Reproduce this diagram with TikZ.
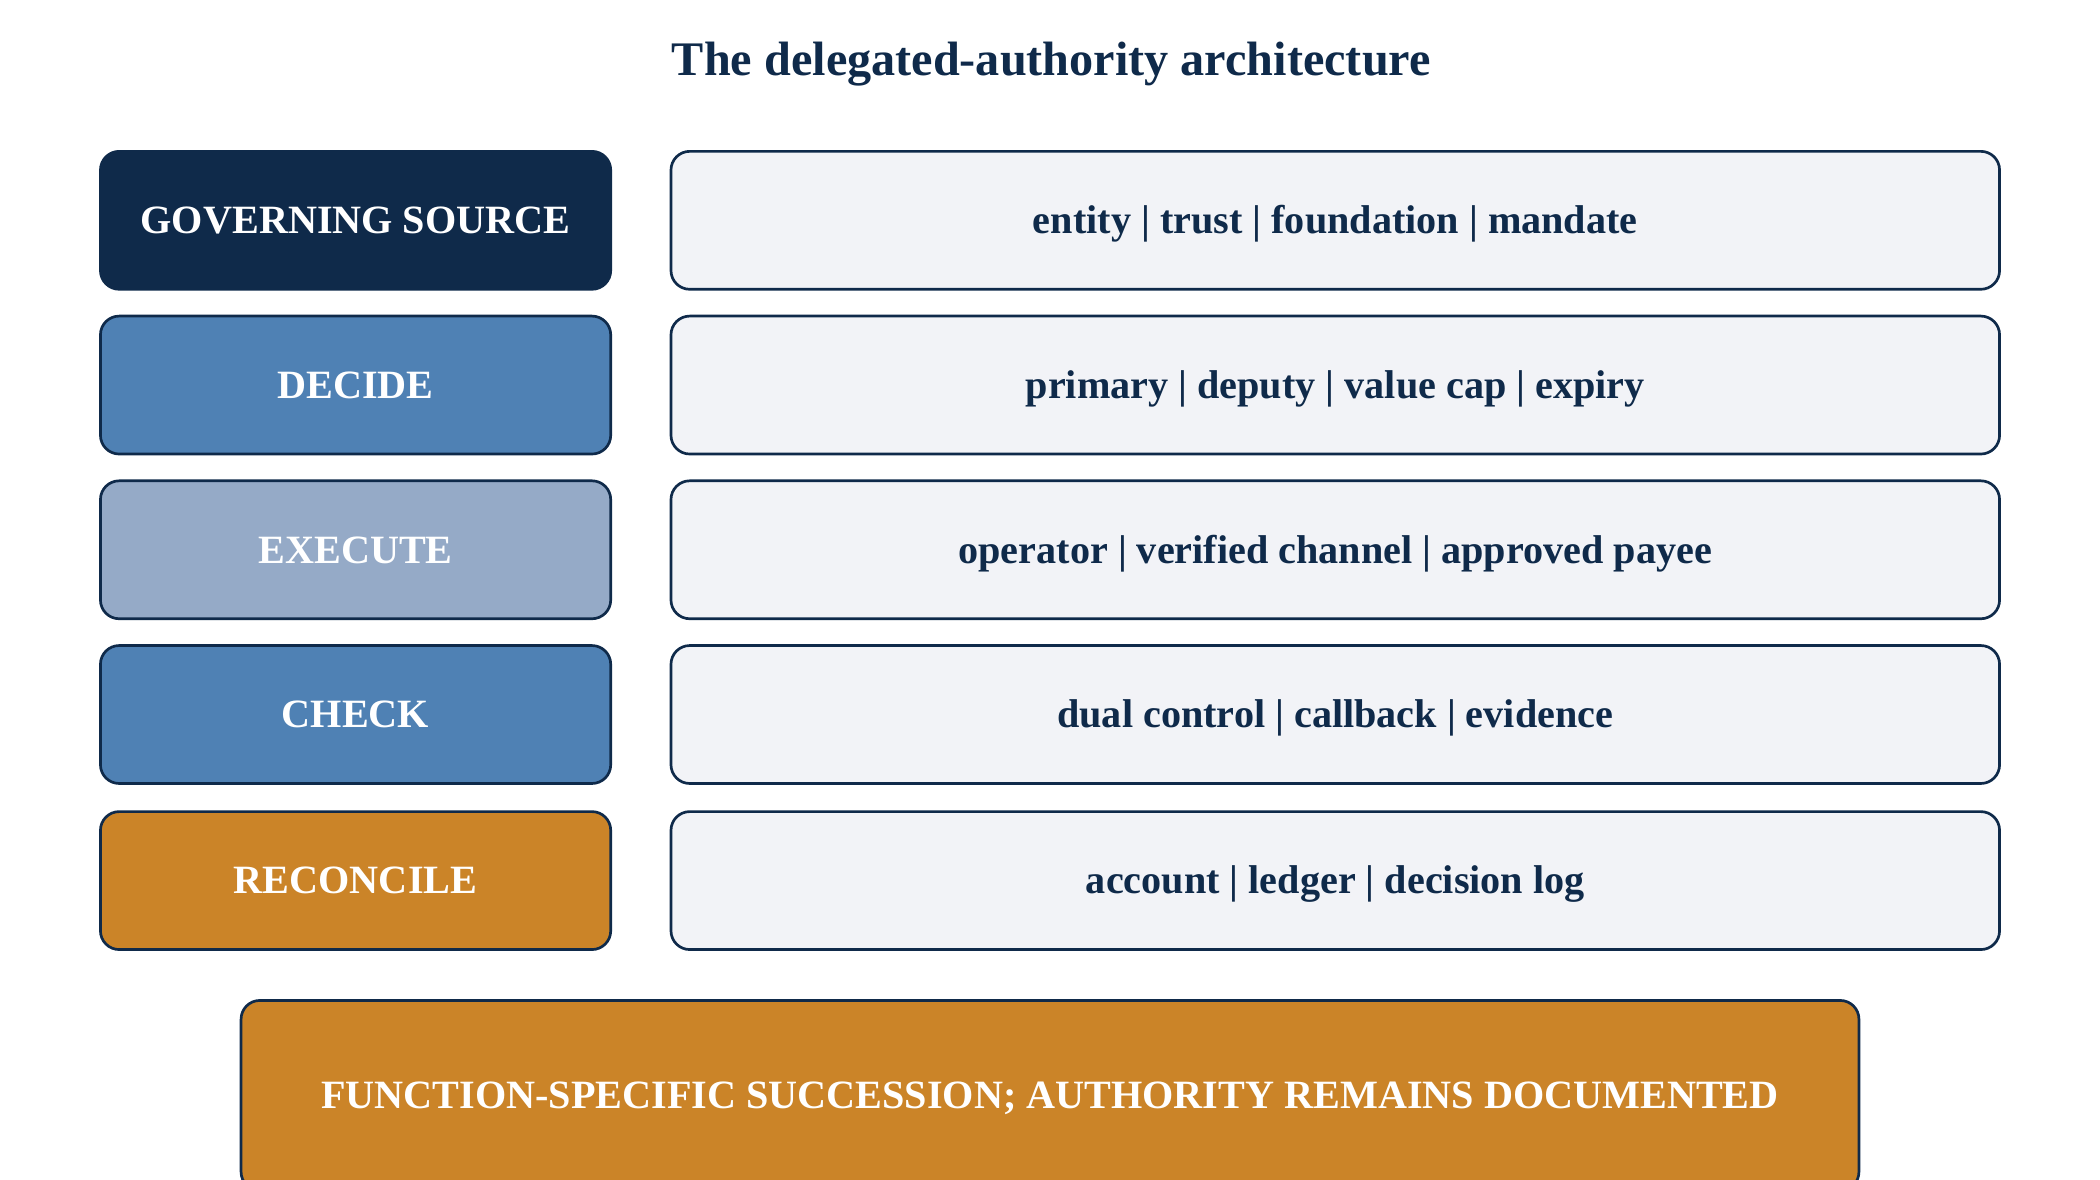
\documentclass[tikz,border=0pt]{standalone}
\usepackage{fontspec}
\setmainfont{Liberation Serif}
\definecolor{navy}{HTML}{0F2A4A}
\definecolor{midblue}{HTML}{4F81B4}
\definecolor{paleblue}{HTML}{95AAC7}
\definecolor{ochre}{HTML}{CB8428}
\definecolor{panel}{HTML}{F2F3F7}
\begin{document}
\begin{tikzpicture}[x=1pt,y=-1pt,
  box/.style={draw=navy, line width=2pt, rounded corners=14pt, minimum height=103pt, inner sep=0pt, text height=20pt, text depth=0pt, font=\fontsize{30}{36}\selectfont\bfseries},
  lbl/.style={box, minimum width=381pt, text=white},
  info/.style={box, fill=panel, minimum width=992pt, text=navy}]
\useasboundingbox (0,0) rectangle (1568,881);
\clip (0,0) rectangle (1568,881);
\fill[white] (0,0) rectangle (1568,881);
\node[font=\fontsize{36}{42}\selectfont\bfseries, text=navy, text height=24pt, text depth=0pt, inner sep=0pt] (title) at (785,44) {The delegated-authority architecture};
\node[lbl, fill=navy] (gov) at (265.5,164.5) {GOVERNING SOURCE};
\node[info] (govi) at (997,164.5) {entity | trust | foundation | mandate};
\node[lbl, fill=midblue] (dec) at (265.5,287.5) {DECIDE};
\node[info] (deci) at (997,287.5) {primary | deputy | value cap | expiry};
\node[lbl, fill=paleblue] (exe) at (265.5,410.5) {EXECUTE};
\node[info] (exei) at (997,410.5) {operator | verified channel | approved payee};
\node[lbl, fill=midblue] (chk) at (265.5,533.5) {CHECK};
\node[info] (chki) at (997,533.5) {dual control | callback | evidence};
\node[lbl, fill=ochre] (rec) at (265.5,657.5) {RECONCILE};
\node[info] (reci) at (997,657.5) {account | ledger | decision log};
\node[box, fill=ochre, minimum width=1208pt, minimum height=142pt, text=white] (succ) at (784,818) {FUNCTION-SPECIFIC SUCCESSION; AUTHORITY REMAINS DOCUMENTED};
\end{tikzpicture}
\end{document}
